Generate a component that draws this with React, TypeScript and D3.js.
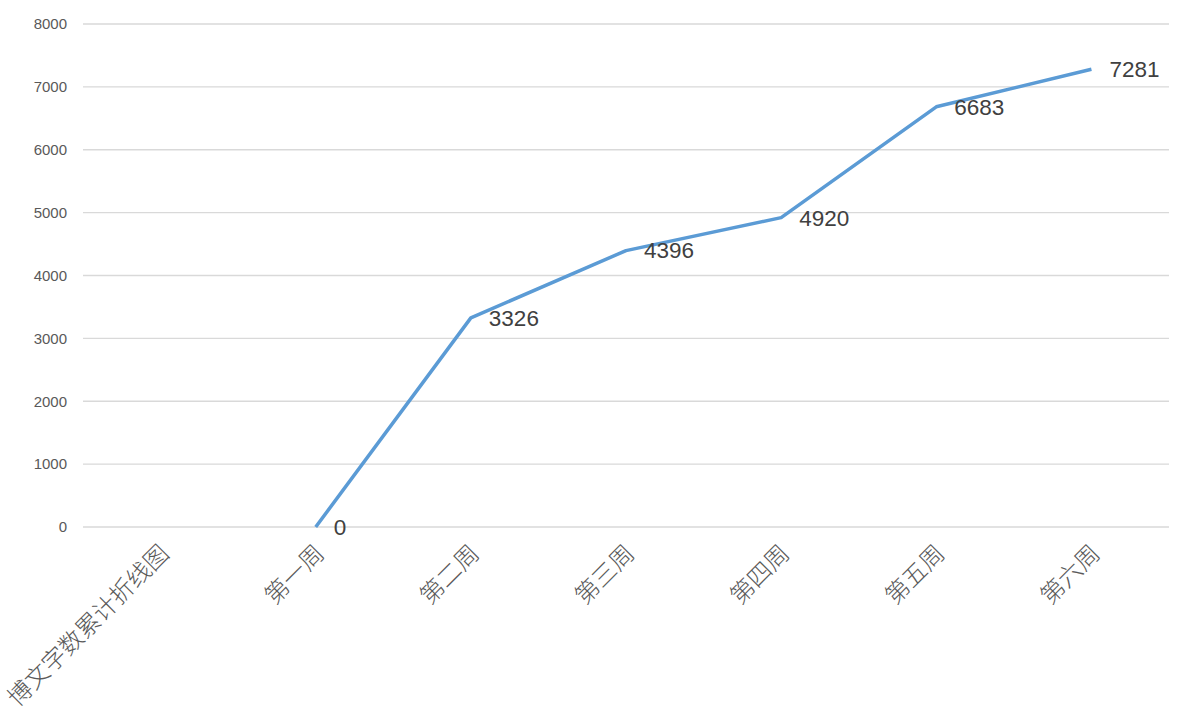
import React from "react";
import * as d3 from "d3";

const categories: string[] = ["博文字数累计折线图", "第一周", "第二周", "第三周", "第四周", "第五周", "第六周"];
const values: (number | null)[] = [null, 0, 3326, 4396, 4920, 6683, 7281];
const yTicks: number[] = [0, 1000, 2000, 3000, 4000, 5000, 6000, 7000, 8000];

const W = 1188;
const H = 724;
const left = 83;
const right = 1169;
const top = 24;
const bottom = 527;

export default function App() {
  const x = d3.scaleBand<string>().domain(categories).range([left, right]);
  const y = d3.scaleLinear().domain([0, 8000]).range([bottom, top]);
  const cx = (c: string) => (x(c) ?? 0) + x.bandwidth() / 2;
  const pts = categories.map((c, i) => ({ c, v: values[i] })).filter((d) => d.v !== null) as { c: string; v: number }[];
  const line = d3
    .line<{ c: string; v: number }>()
    .x((d) => cx(d.c))
    .y((d) => y(d.v));
  const numFont = "'Liberation Sans', Arial, 'Noto Sans CJK SC', sans-serif";
  const cjkFont = "'Noto Sans CJK SC', 'Liberation Sans', sans-serif";
  return (
    <svg width={W} height={H} style={{ position: "absolute", left: 0, top: 0, background: "#fff" }}>
      {yTicks.map((t) => (
        <g key={t}>
          <line x1={left} x2={right} y1={y(t)} y2={y(t)} stroke="#d9d9d9" strokeWidth={1.3} />
          <text x={67} y={y(t)} dy="0.35em" textAnchor="end" fontSize={15} fill="#595959" fontFamily={numFont}>
            {t}
          </text>
        </g>
      ))}
      {categories.map((c) => (
        <text
          key={c}
          transform={`translate(${cx(c) + 4},${549}) rotate(-45)`}
          textAnchor="end"
          fontSize={24}
          fontWeight={300}
          fill="#595959"
          fontFamily={cjkFont}
          dy="0.35em"
        >
          {c}
        </text>
      ))}
      <path d={line(pts) ?? ""} fill="none" stroke="#5b9bd5" strokeWidth={3.5} strokeLinejoin="round" />
      {pts.map((d) => (
        <text key={d.c} x={cx(d.c) + 18} y={y(d.v)} dy="0.35em" fontSize={22.5} fill="#404040" fontFamily={numFont}>
          {d.v}
        </text>
      ))}
    </svg>
  );
}
